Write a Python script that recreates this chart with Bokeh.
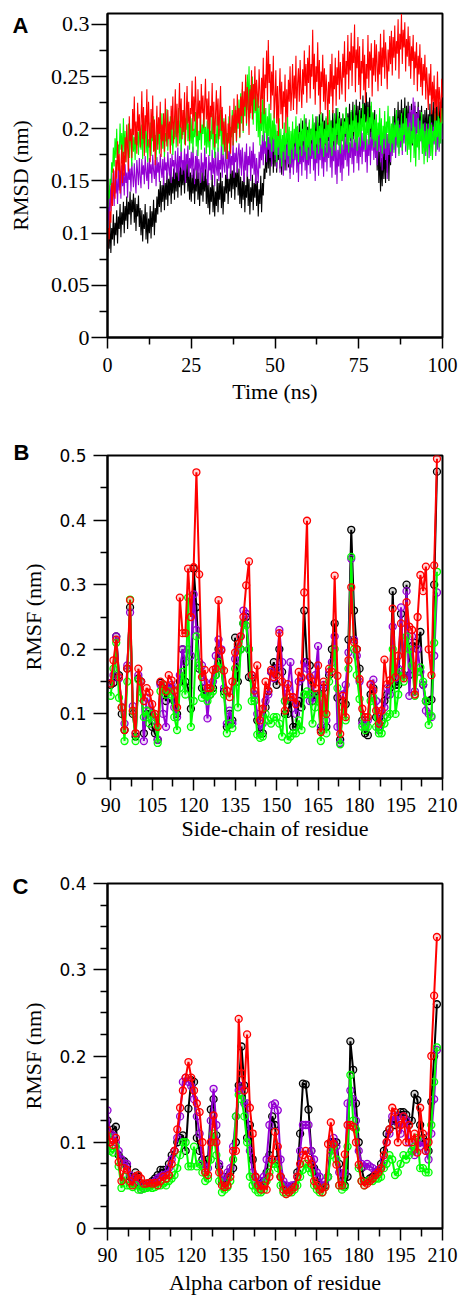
from bokeh.plotting import figure
from bokeh.layouts import column
from bokeh.models import FixedTicker, CustomJSTickFormatter, Title, Range1d
from bokeh.embed import file_html
from bokeh.resources import INLINE

# ---------------- Panel A data: RMSD vs time (0.25 ns sampling) ----------------
time_ns = [i * 0.25 for i in range(401)]

rmsd_black = [
    0.076, 0.098, 0.085, 0.112, 0.081, 0.105, 0.094, 0.118, 0.088, 0.110, 0.098, 0.122, 0.090, 0.116, 0.104, 0.128, 0.096, 0.120, 0.108, 0.130,
    0.100, 0.126, 0.112, 0.135, 0.104, 0.130, 0.118, 0.140, 0.108, 0.132, 0.120, 0.138, 0.110, 0.134, 0.102, 0.128, 0.116, 0.136, 0.106, 0.124,
    0.098, 0.122, 0.092, 0.118, 0.104, 0.128, 0.094, 0.120, 0.090, 0.114, 0.100, 0.126, 0.095, 0.121, 0.106, 0.132, 0.098, 0.124, 0.110, 0.135,
    0.118, 0.142, 0.125, 0.150, 0.120, 0.146, 0.130, 0.155, 0.122, 0.148, 0.132, 0.158, 0.126, 0.152, 0.136, 0.160, 0.128, 0.154, 0.138, 0.162,
    0.132, 0.158, 0.140, 0.166, 0.134, 0.160, 0.144, 0.170, 0.136, 0.162, 0.146, 0.168, 0.138, 0.163, 0.148, 0.170, 0.140, 0.164, 0.132, 0.158,
    0.130, 0.156, 0.138, 0.162, 0.128, 0.152, 0.140, 0.165, 0.132, 0.158, 0.126, 0.150, 0.136, 0.160, 0.130, 0.155, 0.140, 0.164, 0.128, 0.152,
    0.124, 0.148, 0.118, 0.144, 0.130, 0.156, 0.120, 0.146, 0.116, 0.140, 0.126, 0.152, 0.120, 0.148, 0.132, 0.158, 0.124, 0.150, 0.118, 0.145,
    0.130, 0.156, 0.138, 0.164, 0.128, 0.152, 0.140, 0.166, 0.134, 0.160, 0.142, 0.170, 0.132, 0.158, 0.144, 0.168, 0.136, 0.162, 0.128, 0.154,
    0.124, 0.150, 0.132, 0.158, 0.120, 0.146, 0.134, 0.162, 0.126, 0.152, 0.118, 0.144, 0.130, 0.156, 0.122, 0.148, 0.134, 0.160, 0.126, 0.150,
    0.116, 0.142, 0.128, 0.155, 0.120, 0.148, 0.136, 0.162, 0.152, 0.178, 0.158, 0.186, 0.162, 0.192, 0.155, 0.184, 0.166, 0.196, 0.158, 0.190,
    0.164, 0.194, 0.158, 0.188, 0.170, 0.198, 0.162, 0.190, 0.156, 0.185, 0.168, 0.196, 0.160, 0.188, 0.172, 0.200, 0.163, 0.190, 0.158, 0.186,
    0.168, 0.196, 0.162, 0.190, 0.174, 0.202, 0.166, 0.195, 0.176, 0.205, 0.168, 0.198, 0.178, 0.208, 0.170, 0.200, 0.180, 0.210, 0.172, 0.202,
    0.178, 0.206, 0.172, 0.200, 0.182, 0.210, 0.175, 0.204, 0.184, 0.212, 0.177, 0.206, 0.186, 0.214, 0.178, 0.205, 0.188, 0.215, 0.180, 0.208,
    0.184, 0.210, 0.178, 0.206, 0.188, 0.215, 0.180, 0.208, 0.190, 0.218, 0.182, 0.210, 0.192, 0.220, 0.185, 0.212, 0.190, 0.216, 0.183, 0.210,
    0.188, 0.214, 0.182, 0.210, 0.192, 0.220, 0.186, 0.215, 0.196, 0.224, 0.188, 0.216, 0.198, 0.226, 0.190, 0.218, 0.200, 0.228, 0.192, 0.222,
    0.198, 0.226, 0.190, 0.220, 0.202, 0.232, 0.195, 0.225, 0.206, 0.235, 0.196, 0.226, 0.200, 0.230, 0.192, 0.222, 0.186, 0.215, 0.190, 0.218,
    0.176, 0.205, 0.160, 0.190, 0.148, 0.178, 0.140, 0.172, 0.145, 0.180, 0.152, 0.186, 0.148, 0.182, 0.158, 0.195, 0.150, 0.188, 0.165, 0.200,
    0.182, 0.212, 0.190, 0.220, 0.184, 0.214, 0.194, 0.226, 0.186, 0.218, 0.196, 0.228, 0.188, 0.220, 0.198, 0.230, 0.190, 0.222, 0.195, 0.226,
    0.186, 0.216, 0.192, 0.224, 0.184, 0.214, 0.194, 0.222, 0.186, 0.216, 0.196, 0.226, 0.188, 0.218, 0.194, 0.222, 0.186, 0.214, 0.190, 0.218,
    0.192, 0.220, 0.186, 0.214, 0.196, 0.224, 0.190, 0.218, 0.198, 0.226, 0.192, 0.220, 0.200, 0.228, 0.194, 0.222, 0.198, 0.226, 0.202, 0.228,
    0.210,
]

rmsd_purple = [
    0.098, 0.125, 0.112, 0.146, 0.121, 0.158, 0.132, 0.149, 0.126, 0.160, 0.138, 0.152, 0.128, 0.163, 0.141, 0.156, 0.133, 0.165, 0.145, 0.158,
    0.136, 0.166, 0.148, 0.158, 0.134, 0.170, 0.151, 0.162, 0.140, 0.168, 0.155, 0.144, 0.167, 0.152, 0.138, 0.170, 0.158, 0.146, 0.172, 0.154,
    0.143, 0.171, 0.156, 0.165, 0.147, 0.174, 0.159, 0.150, 0.168, 0.142, 0.172, 0.157, 0.166, 0.148, 0.175, 0.160, 0.152, 0.170, 0.145, 0.173,
    0.158, 0.168, 0.149, 0.176, 0.162, 0.153, 0.171, 0.146, 0.174, 0.160, 0.168, 0.151, 0.178, 0.163, 0.155, 0.172, 0.148, 0.176, 0.164, 0.170,
    0.152, 0.179, 0.165, 0.158, 0.182, 0.150, 0.174, 0.163, 0.185, 0.156, 0.170, 0.160, 0.181, 0.148, 0.176, 0.166, 0.184, 0.154, 0.172, 0.162,
    0.178, 0.153, 0.183, 0.165, 0.147, 0.174, 0.160, 0.180, 0.152, 0.171, 0.164, 0.148, 0.177, 0.158, 0.168, 0.150, 0.182, 0.161, 0.173, 0.155,
    0.146, 0.175, 0.160, 0.168, 0.151, 0.180, 0.157, 0.172, 0.145, 0.178, 0.163, 0.155, 0.182, 0.150, 0.170, 0.161, 0.185, 0.153, 0.176, 0.166,
    0.158, 0.183, 0.166, 0.152, 0.179, 0.162, 0.186, 0.157, 0.174, 0.165, 0.188, 0.153, 0.177, 0.168, 0.182, 0.158, 0.175, 0.186, 0.162, 0.180,
    0.155, 0.182, 0.167, 0.149, 0.178, 0.160, 0.186, 0.154, 0.174, 0.165, 0.183, 0.150, 0.179, 0.162, 0.187, 0.156, 0.176, 0.147, 0.172, 0.160,
    0.148, 0.178, 0.162, 0.185, 0.170, 0.194, 0.165, 0.198, 0.176, 0.188, 0.168, 0.200, 0.180, 0.192, 0.172, 0.196, 0.164, 0.190, 0.178, 0.195,
    0.170, 0.198, 0.162, 0.189, 0.175, 0.194, 0.158, 0.186, 0.168, 0.192, 0.155, 0.183, 0.171, 0.190, 0.160, 0.187, 0.166, 0.181, 0.152, 0.185,
    0.163, 0.190, 0.156, 0.183, 0.170, 0.193, 0.158, 0.186, 0.149, 0.180, 0.166, 0.191, 0.155, 0.184, 0.168, 0.195, 0.160, 0.188, 0.152, 0.182,
    0.165, 0.192, 0.157, 0.186, 0.171, 0.196, 0.160, 0.189, 0.150, 0.182, 0.167, 0.193, 0.155, 0.185, 0.170, 0.197, 0.162, 0.190, 0.154, 0.184,
    0.168, 0.194, 0.159, 0.188, 0.172, 0.198, 0.163, 0.190, 0.153, 0.184, 0.169, 0.195, 0.156, 0.186, 0.147, 0.180, 0.164, 0.192, 0.158, 0.189,
    0.150, 0.185, 0.162, 0.192, 0.170, 0.199, 0.164, 0.190, 0.155, 0.187, 0.172, 0.198, 0.166, 0.193, 0.158, 0.190, 0.174, 0.200, 0.167, 0.195,
    0.160, 0.192, 0.173, 0.200, 0.166, 0.196, 0.178, 0.202, 0.168, 0.194, 0.158, 0.190, 0.174, 0.200, 0.165, 0.197, 0.179, 0.204, 0.170, 0.198,
    0.172, 0.200, 0.165, 0.196, 0.178, 0.204, 0.168, 0.198, 0.160, 0.194, 0.176, 0.202, 0.170, 0.199, 0.152, 0.188, 0.175, 0.203, 0.168, 0.200,
    0.174, 0.201, 0.180, 0.206, 0.172, 0.200, 0.184, 0.210, 0.176, 0.204, 0.182, 0.208, 0.175, 0.205, 0.186, 0.212, 0.178, 0.207, 0.188, 0.215,
    0.192, 0.222, 0.185, 0.218, 0.198, 0.230, 0.190, 0.226, 0.184, 0.215, 0.196, 0.221, 0.180, 0.208, 0.188, 0.212, 0.176, 0.204, 0.182, 0.206,
    0.174, 0.200, 0.181, 0.205, 0.172, 0.198, 0.183, 0.206, 0.176, 0.202, 0.185, 0.208, 0.174, 0.200, 0.180, 0.205, 0.178, 0.203, 0.186, 0.208,
    0.190,
]

rmsd_green = [
    0.122, 0.141, 0.133, 0.152, 0.146, 0.168, 0.158, 0.182, 0.164, 0.191, 0.172, 0.200, 0.168, 0.185, 0.176, 0.205, 0.180, 0.196, 0.171, 0.210,
    0.176, 0.198, 0.168, 0.189, 0.182, 0.205, 0.172, 0.195, 0.186, 0.164, 0.200, 0.178, 0.192, 0.170, 0.203, 0.184, 0.197, 0.175, 0.208, 0.187,
    0.180, 0.204, 0.171, 0.195, 0.186, 0.210, 0.177, 0.198, 0.168, 0.190, 0.182, 0.206, 0.174, 0.200, 0.188, 0.212, 0.179, 0.194, 0.170, 0.203,
    0.185, 0.208, 0.176, 0.199, 0.190, 0.215, 0.181, 0.204, 0.173, 0.196, 0.188, 0.219, 0.179, 0.201, 0.192, 0.212, 0.184, 0.206, 0.175, 0.198,
    0.190, 0.214, 0.182, 0.205, 0.196, 0.220, 0.186, 0.208, 0.178, 0.202, 0.194, 0.218, 0.185, 0.210, 0.199, 0.222, 0.188, 0.205, 0.180, 0.212,
    0.186, 0.210, 0.177, 0.200, 0.192, 0.216, 0.183, 0.207, 0.174, 0.198, 0.189, 0.214, 0.180, 0.204, 0.195, 0.219, 0.184, 0.202, 0.176, 0.208,
    0.182, 0.206, 0.174, 0.198, 0.190, 0.215, 0.180, 0.204, 0.172, 0.195, 0.186, 0.212, 0.178, 0.200, 0.193, 0.218, 0.183, 0.205, 0.175, 0.210,
    0.180, 0.204, 0.171, 0.196, 0.188, 0.212, 0.178, 0.202, 0.192, 0.218, 0.184, 0.210, 0.196, 0.222, 0.187, 0.214, 0.200, 0.228, 0.191, 0.234,
    0.205, 0.238, 0.196, 0.228, 0.212, 0.245, 0.203, 0.252, 0.218, 0.260, 0.210, 0.242, 0.222, 0.250, 0.204, 0.236, 0.215, 0.244, 0.198, 0.230,
    0.192, 0.222, 0.184, 0.216, 0.198, 0.228, 0.188, 0.232, 0.196, 0.220, 0.182, 0.212, 0.193, 0.224, 0.186, 0.215, 0.178, 0.208, 0.190, 0.218,
    0.175, 0.204, 0.168, 0.198, 0.182, 0.210, 0.172, 0.200, 0.164, 0.194, 0.178, 0.206, 0.170, 0.196, 0.185, 0.212, 0.174, 0.202, 0.166, 0.198,
    0.180, 0.207, 0.171, 0.200, 0.186, 0.212, 0.176, 0.203, 0.168, 0.197, 0.183, 0.210, 0.174, 0.200, 0.188, 0.214, 0.178, 0.205, 0.170, 0.199,
    0.182, 0.209, 0.174, 0.200, 0.189, 0.214, 0.179, 0.206, 0.171, 0.198, 0.185, 0.212, 0.176, 0.203, 0.191, 0.216, 0.181, 0.207, 0.173, 0.200,
    0.186, 0.212, 0.177, 0.204, 0.192, 0.218, 0.182, 0.208, 0.174, 0.201, 0.188, 0.215, 0.179, 0.205, 0.194, 0.220, 0.184, 0.210, 0.176, 0.203,
    0.189, 0.215, 0.180, 0.207, 0.195, 0.221, 0.185, 0.211, 0.177, 0.204, 0.191, 0.218, 0.182, 0.208, 0.197, 0.223, 0.187, 0.213, 0.179, 0.206,
    0.192, 0.218, 0.183, 0.210, 0.198, 0.224, 0.188, 0.214, 0.180, 0.207, 0.194, 0.221, 0.185, 0.211, 0.200, 0.226, 0.190, 0.216, 0.182, 0.209,
    0.188, 0.214, 0.179, 0.206, 0.194, 0.220, 0.184, 0.210, 0.176, 0.203, 0.190, 0.217, 0.181, 0.207, 0.196, 0.222, 0.186, 0.212, 0.178, 0.205,
    0.186, 0.212, 0.177, 0.204, 0.192, 0.218, 0.182, 0.208, 0.174, 0.201, 0.188, 0.215, 0.179, 0.205, 0.194, 0.220, 0.184, 0.210, 0.175, 0.202,
    0.180, 0.206, 0.168, 0.198, 0.186, 0.214, 0.172, 0.202, 0.164, 0.195, 0.182, 0.210, 0.170, 0.200, 0.188, 0.216, 0.176, 0.205, 0.166, 0.198,
    0.178, 0.205, 0.168, 0.200, 0.185, 0.212, 0.174, 0.204, 0.170, 0.198, 0.188, 0.215, 0.178, 0.208, 0.192, 0.218, 0.182, 0.210, 0.186, 0.220,
    0.205,
]

rmsd_red = [
    0.082, 0.105, 0.094, 0.121, 0.110, 0.148, 0.126, 0.162, 0.141, 0.133, 0.170, 0.152, 0.188, 0.160, 0.176, 0.138, 0.165, 0.185, 0.148, 0.178,
    0.155, 0.192, 0.168, 0.204, 0.181, 0.159, 0.212, 0.188, 0.200, 0.172, 0.219, 0.194, 0.231, 0.185, 0.207, 0.176, 0.225, 0.198, 0.214, 0.182,
    0.205, 0.236, 0.190, 0.221, 0.174, 0.213, 0.198, 0.238, 0.183, 0.226, 0.200, 0.168, 0.219, 0.191, 0.232, 0.178, 0.209, 0.165, 0.196, 0.222,
    0.180, 0.211, 0.195, 0.226, 0.173, 0.204, 0.188, 0.215, 0.178, 0.229, 0.197, 0.183, 0.218, 0.190, 0.207, 0.176, 0.222, 0.199, 0.231, 0.186,
    0.209, 0.238, 0.192, 0.224, 0.183, 0.215, 0.244, 0.201, 0.229, 0.190, 0.218, 0.197, 0.235, 0.184, 0.212, 0.241, 0.205, 0.226, 0.188, 0.220,
    0.214, 0.246, 0.198, 0.231, 0.207, 0.250, 0.219, 0.193, 0.238, 0.210, 0.227, 0.196, 0.243, 0.215, 0.232, 0.201, 0.224, 0.248, 0.209, 0.229,
    0.200, 0.236, 0.188, 0.222, 0.211, 0.244, 0.195, 0.226, 0.182, 0.214, 0.237, 0.203, 0.229, 0.190, 0.218, 0.241, 0.198, 0.221, 0.185, 0.207,
    0.178, 0.214, 0.194, 0.171, 0.205, 0.186, 0.222, 0.176, 0.198, 0.213, 0.184, 0.229, 0.196, 0.218, 0.188, 0.233, 0.205, 0.220, 0.192, 0.231,
    0.212, 0.245, 0.198, 0.236, 0.221, 0.252, 0.205, 0.240, 0.226, 0.194, 0.238, 0.215, 0.256, 0.209, 0.243, 0.228, 0.260, 0.217, 0.247, 0.233,
    0.220, 0.257, 0.236, 0.205, 0.249, 0.228, 0.268, 0.214, 0.252, 0.239, 0.275, 0.226, 0.285, 0.244, 0.262, 0.218, 0.255, 0.232, 0.270, 0.210,
    0.228, 0.256, 0.205, 0.241, 0.193, 0.232, 0.258, 0.214, 0.245, 0.200, 0.236, 0.221, 0.252, 0.196, 0.238, 0.211, 0.247, 0.226, 0.260, 0.217,
    0.235, 0.262, 0.218, 0.251, 0.229, 0.270, 0.214, 0.244, 0.258, 0.226, 0.266, 0.238, 0.220, 0.257, 0.233, 0.275, 0.241, 0.262, 0.225, 0.268,
    0.244, 0.280, 0.229, 0.262, 0.250, 0.295, 0.238, 0.272, 0.223, 0.260, 0.245, 0.283, 0.232, 0.266, 0.214, 0.255, 0.240, 0.271, 0.226, 0.258,
    0.218, 0.252, 0.236, 0.204, 0.245, 0.224, 0.262, 0.231, 0.272, 0.215, 0.251, 0.238, 0.268, 0.222, 0.259, 0.242, 0.275, 0.228, 0.264, 0.247,
    0.233, 0.272, 0.249, 0.284, 0.226, 0.265, 0.252, 0.290, 0.238, 0.274, 0.256, 0.292, 0.241, 0.279, 0.263, 0.300, 0.235, 0.276, 0.258, 0.288,
    0.242, 0.279, 0.228, 0.265, 0.253, 0.286, 0.237, 0.271, 0.225, 0.262, 0.248, 0.290, 0.239, 0.274, 0.256, 0.282, 0.231, 0.268, 0.251, 0.285,
    0.245, 0.281, 0.262, 0.236, 0.274, 0.252, 0.291, 0.241, 0.278, 0.259, 0.295, 0.248, 0.283, 0.266, 0.238, 0.276, 0.255, 0.289, 0.262, 0.294,
    0.251, 0.288, 0.268, 0.299, 0.256, 0.284, 0.272, 0.305, 0.248, 0.291, 0.276, 0.310, 0.262, 0.295, 0.278, 0.302, 0.255, 0.286, 0.269, 0.298,
    0.260, 0.289, 0.248, 0.279, 0.265, 0.290, 0.242, 0.274, 0.258, 0.283, 0.236, 0.270, 0.252, 0.281, 0.240, 0.268, 0.232, 0.262, 0.246, 0.271,
    0.228, 0.259, 0.242, 0.218, 0.253, 0.232, 0.262, 0.214, 0.245, 0.226, 0.251, 0.208, 0.238, 0.221, 0.255, 0.212, 0.240, 0.228, 0.206, 0.248,
    0.230,
]

# ---------------- Panel B data: side-chain RMSF ----------------
residues = list(range(90, 209))

sc_black = [
    0.145, 0.148, 0.220, 0.160, 0.100, 0.075, 0.170, 0.265, 0.100, 0.065,
    0.155, 0.150, 0.070, 0.100, 0.105, 0.080, 0.070, 0.060, 0.148, 0.140,
    0.120, 0.140, 0.140, 0.120, 0.100, 0.150, 0.200, 0.150, 0.140, 0.108,
    0.325, 0.265, 0.170, 0.140, 0.130, 0.135, 0.130, 0.140, 0.160, 0.200,
    0.170, 0.135, 0.080, 0.100, 0.090, 0.218, 0.150, 0.200, 0.240, 0.250,
    0.157, 0.155, 0.130, 0.090, 0.070, 0.070, 0.110, 0.135, 0.165, 0.180,
    0.145, 0.200, 0.165, 0.100, 0.100, 0.120, 0.080, 0.080, 0.120, 0.110,
    0.260, 0.180, 0.175, 0.120, 0.130, 0.130, 0.075, 0.140, 0.080, 0.160,
    0.200, 0.240, 0.125, 0.060, 0.120, 0.115, 0.215, 0.385, 0.260, 0.200,
    0.170, 0.090, 0.070, 0.067, 0.130, 0.140, 0.095, 0.080, 0.090, 0.120,
    0.130, 0.140, 0.290, 0.145, 0.145, 0.255, 0.160, 0.300, 0.160, 0.205,
    0.210, 0.200, 0.227, 0.145, 0.120, 0.120, 0.122, 0.300, 0.475,
]

sc_purple = [
    0.148, 0.160, 0.220, 0.155, 0.110, 0.085, 0.175, 0.257, 0.112, 0.070,
    0.160, 0.150, 0.058, 0.125, 0.115, 0.100, 0.090, 0.060, 0.145, 0.100,
    0.080, 0.140, 0.145, 0.110, 0.095, 0.160, 0.200, 0.180, 0.200, 0.190,
    0.285, 0.230, 0.180, 0.175, 0.150, 0.093, 0.140, 0.150, 0.190, 0.215,
    0.200, 0.140, 0.085, 0.105, 0.085, 0.185, 0.200, 0.220, 0.260, 0.255,
    0.200, 0.160, 0.130, 0.100, 0.075, 0.085, 0.120, 0.130, 0.165, 0.155,
    0.170, 0.230, 0.180, 0.120, 0.140, 0.180, 0.125, 0.100, 0.150, 0.155,
    0.180, 0.170, 0.120, 0.125, 0.160, 0.205, 0.080, 0.145, 0.090, 0.165,
    0.180, 0.220, 0.080, 0.055, 0.130, 0.145, 0.195, 0.340, 0.215, 0.190,
    0.150, 0.085, 0.080, 0.090, 0.145, 0.153, 0.120, 0.075, 0.100, 0.110,
    0.140, 0.130, 0.235, 0.155, 0.170, 0.265, 0.160, 0.290, 0.128, 0.220,
    0.135, 0.200, 0.165, 0.145, 0.105, 0.100, 0.095, 0.190, 0.288,
]

sc_green = [
    0.128, 0.170, 0.210, 0.125, 0.110, 0.058, 0.150, 0.277, 0.104, 0.058,
    0.153, 0.125, 0.095, 0.105, 0.085, 0.100, 0.095, 0.055, 0.135, 0.145,
    0.130, 0.135, 0.130, 0.095, 0.075, 0.140, 0.165, 0.130, 0.280, 0.080,
    0.120, 0.220, 0.175, 0.125, 0.130, 0.120, 0.130, 0.135, 0.160, 0.180,
    0.170, 0.130, 0.070, 0.085, 0.078, 0.170, 0.110, 0.200, 0.240, 0.237,
    0.200, 0.120, 0.120, 0.068, 0.063, 0.065, 0.100, 0.090, 0.085, 0.095,
    0.095, 0.085, 0.065, 0.120, 0.060, 0.065, 0.070, 0.070, 0.090, 0.075,
    0.130, 0.135, 0.130, 0.085, 0.110, 0.130, 0.058, 0.125, 0.070, 0.150,
    0.170, 0.200, 0.140, 0.053, 0.110, 0.090, 0.170, 0.343, 0.200, 0.160,
    0.123, 0.080, 0.075, 0.080, 0.120, 0.125, 0.080, 0.070, 0.070, 0.085,
    0.095, 0.100, 0.200, 0.100, 0.130, 0.165, 0.150, 0.220, 0.200, 0.175,
    0.128, 0.165, 0.172, 0.150, 0.120, 0.083, 0.097, 0.210, 0.320,
]

sc_red = [
    0.147, 0.183, 0.215, 0.157, 0.110, 0.075, 0.170, 0.276, 0.105, 0.070,
    0.170, 0.150, 0.120, 0.140, 0.133, 0.115, 0.100, 0.080, 0.150, 0.146,
    0.135, 0.160, 0.152, 0.136, 0.110, 0.280, 0.225, 0.225, 0.325, 0.250,
    0.327, 0.474, 0.316, 0.157, 0.168, 0.140, 0.140, 0.168, 0.170, 0.276,
    0.198, 0.167, 0.136, 0.126, 0.150, 0.195, 0.208, 0.220, 0.250, 0.299,
    0.336, 0.160, 0.136, 0.175, 0.090, 0.108, 0.150, 0.136, 0.168, 0.157,
    0.160, 0.225, 0.150, 0.105, 0.146, 0.126, 0.126, 0.115, 0.165, 0.157,
    0.288, 0.399, 0.157, 0.150, 0.140, 0.175, 0.072, 0.150, 0.100, 0.170,
    0.165, 0.314, 0.159, 0.069, 0.128, 0.095, 0.183, 0.296, 0.211, 0.200,
    0.154, 0.108, 0.095, 0.095, 0.146, 0.136, 0.105, 0.085, 0.105, 0.184,
    0.146, 0.152, 0.263, 0.157, 0.190, 0.240, 0.155, 0.273, 0.235, 0.230,
    0.130, 0.250, 0.315, 0.290, 0.328, 0.200, 0.160, 0.330, 0.495,
]

# ---------------- Panel C data: alpha-carbon RMSF ----------------
ca_black = [
    0.125, 0.110, 0.115, 0.118, 0.085, 0.080, 0.078, 0.072, 0.060, 0.058,
    0.065, 0.060, 0.050, 0.050, 0.052, 0.050, 0.055, 0.058, 0.062, 0.068,
    0.068, 0.065, 0.075, 0.085, 0.090, 0.100, 0.105, 0.108, 0.090, 0.139,
    0.172, 0.170, 0.105, 0.090, 0.080, 0.075, 0.080, 0.138, 0.150, 0.108,
    0.072, 0.055, 0.052, 0.060, 0.065, 0.070, 0.100, 0.166, 0.211, 0.166,
    0.105, 0.120, 0.080, 0.060, 0.052, 0.050, 0.055, 0.065, 0.085, 0.130,
    0.120, 0.080, 0.060, 0.050, 0.045, 0.045, 0.048, 0.050, 0.065, 0.110,
    0.168, 0.167, 0.138, 0.090, 0.070, 0.060, 0.050, 0.048, 0.050, 0.060,
    0.100, 0.100, 0.100, 0.075, 0.055, 0.050, 0.060, 0.217, 0.184, 0.145,
    0.100, 0.070, 0.055, 0.055, 0.058, 0.060, 0.065, 0.068, 0.075, 0.090,
    0.110, 0.115, 0.125, 0.120, 0.130, 0.135, 0.135, 0.132, 0.120, 0.125,
    0.156, 0.149, 0.120, 0.105, 0.100, 0.090, 0.147, 0.200, 0.260,
]

ca_purple = [
    0.137, 0.110, 0.108, 0.100, 0.090, 0.080, 0.075, 0.075, 0.062, 0.055,
    0.058, 0.055, 0.045, 0.047, 0.050, 0.050, 0.052, 0.055, 0.058, 0.060,
    0.062, 0.063, 0.070, 0.080, 0.090, 0.105, 0.130, 0.170, 0.175, 0.170,
    0.165, 0.150, 0.130, 0.110, 0.075, 0.070, 0.070, 0.125, 0.162, 0.120,
    0.075, 0.060, 0.055, 0.065, 0.070, 0.095, 0.130, 0.160, 0.165, 0.145,
    0.145, 0.090, 0.065, 0.055, 0.050, 0.055, 0.060, 0.080, 0.120, 0.143,
    0.145, 0.137, 0.080, 0.055, 0.050, 0.048, 0.050, 0.050, 0.060, 0.090,
    0.120, 0.120, 0.120, 0.090, 0.080, 0.065, 0.060, 0.050, 0.055, 0.060,
    0.090, 0.105, 0.095, 0.065, 0.060, 0.065, 0.145, 0.160, 0.150, 0.125,
    0.090, 0.075, 0.072, 0.075, 0.072, 0.070, 0.065, 0.068, 0.070, 0.080,
    0.100, 0.110, 0.130, 0.125, 0.130, 0.110, 0.130, 0.125, 0.100, 0.090,
    0.085, 0.100, 0.095, 0.100, 0.090, 0.080, 0.110, 0.150, 0.207,
]

ca_green = [
    0.108, 0.090, 0.088, 0.095, 0.072, 0.047, 0.060, 0.050, 0.050, 0.048,
    0.050, 0.045, 0.045, 0.046, 0.047, 0.048, 0.047, 0.048, 0.050, 0.050,
    0.052, 0.050, 0.055, 0.058, 0.062, 0.070, 0.085, 0.100, 0.100, 0.072,
    0.072, 0.095, 0.072, 0.075, 0.065, 0.055, 0.058, 0.080, 0.110, 0.085,
    0.055, 0.042, 0.045, 0.048, 0.055, 0.080, 0.130, 0.155, 0.150, 0.130,
    0.100, 0.060, 0.050, 0.045, 0.042, 0.042, 0.045, 0.055, 0.065, 0.075,
    0.075, 0.070, 0.050, 0.042, 0.040, 0.042, 0.042, 0.045, 0.050, 0.060,
    0.068, 0.075, 0.070, 0.065, 0.050, 0.045, 0.042, 0.042, 0.048, 0.060,
    0.085, 0.095, 0.080, 0.050, 0.045, 0.048, 0.095, 0.178, 0.125, 0.115,
    0.070, 0.055, 0.050, 0.055, 0.055, 0.055, 0.058, 0.058, 0.060, 0.070,
    0.075, 0.085, 0.080, 0.062, 0.065, 0.075, 0.085, 0.080, 0.085, 0.090,
    0.095, 0.105, 0.070, 0.070, 0.065, 0.065, 0.120, 0.170, 0.210,
]

ca_red = [
    0.114, 0.100, 0.097, 0.105, 0.077, 0.055, 0.070, 0.068, 0.055, 0.050,
    0.060, 0.062, 0.058, 0.052, 0.052, 0.053, 0.052, 0.053, 0.050, 0.055,
    0.060, 0.058, 0.062, 0.075, 0.090, 0.115, 0.140, 0.160, 0.175, 0.193,
    0.175, 0.160, 0.145, 0.135, 0.100, 0.065, 0.062, 0.100, 0.131, 0.100,
    0.065, 0.050, 0.048, 0.050, 0.060, 0.090, 0.090, 0.243, 0.180, 0.160,
    0.225, 0.140, 0.110, 0.060, 0.050, 0.045, 0.050, 0.045, 0.060, 0.080,
    0.112, 0.095, 0.060, 0.045, 0.040, 0.042, 0.045, 0.048, 0.060, 0.075,
    0.085, 0.090, 0.080, 0.075, 0.055, 0.050, 0.045, 0.042, 0.048, 0.098,
    0.123, 0.098, 0.074, 0.050, 0.050, 0.086, 0.120, 0.120, 0.118, 0.100,
    0.074, 0.055, 0.050, 0.052, 0.055, 0.058, 0.062, 0.065, 0.070, 0.085,
    0.100, 0.115, 0.140, 0.135, 0.100, 0.120, 0.130, 0.100, 0.120, 0.100,
    0.110, 0.088, 0.140, 0.110, 0.090, 0.100, 0.200, 0.270, 0.338,
]

# ---------------- tick definitions ----------------
a_xticks = [0, 25, 50, 75, 100]
a_xminor = [12.5, 37.5, 62.5, 87.5]
a_yticks = [0, 0.05, 0.1, 0.15, 0.2, 0.25, 0.3]
a_yminor = [0.025, 0.075, 0.125, 0.175, 0.225, 0.275]
res_ticks = [90, 105, 120, 135, 150, 165, 180, 195, 210]
res_minor = [97.5, 112.5, 127.5, 142.5, 157.5, 172.5, 187.5, 202.5]
b_yticks = [0, 0.1, 0.2, 0.3, 0.4, 0.5]
b_yminor = [0.05, 0.15, 0.25, 0.35, 0.45]
c_yticks = [0, 0.1, 0.2, 0.3, 0.4]
c_yminor = [0.025, 0.05, 0.075, 0.125, 0.15, 0.175, 0.225, 0.25, 0.275, 0.325, 0.35, 0.375]

COLORS = {"black": "#000000", "purple": "#9400D3", "green": "#00FF00", "red": "#FF0000"}
SERIF = "Liberation Serif"
SANS = "DejaVu Sans"
LETTER = "Liberation Sans"

num_fmt = CustomJSTickFormatter(code="return String(Math.round(tick * 1000) / 1000);")


def make_fig(height, xr, yr, left, right, top, bottom):
    p = figure(width=468, height=height, x_range=Range1d(*xr), y_range=Range1d(*yr),
               output_backend="svg", toolbar_location=None,
               min_border_left=left, min_border_right=right,
               min_border_top=top, min_border_bottom=bottom)
    p.grid.visible = False
    p.outline_line_color = "black"
    p.outline_line_width = 2
    p.background_fill_color = "white"
    p.border_fill_color = "white"
    for ax in (p.xaxis[0], p.yaxis[0]):
        ax.axis_line_width = 2
        ax.axis_line_color = "black"
        ax.major_tick_line_width = 1.5
        ax.minor_tick_line_width = 1.5
        ax.major_tick_in = 0
        ax.minor_tick_in = 0
        ax.major_label_text_color = "black"
        ax.axis_label_text_font_style = "normal"
        ax.axis_label_text_color = "black"
        ax.formatter = num_fmt
    return p


def panel_letter(p, text, offset, standoff):
    p.add_layout(Title(text=text, align="left", offset=offset, standoff=standoff,
                       vertical_align="bottom", text_font=LETTER, text_font_style="bold",
                       text_font_size="22px", text_color="black"), "above")


# ---------------- Panel A ----------------
pA = make_fig(430, (0, 100), (0, 0.3105), 107, 26, 13, 93)
pA.xaxis.ticker = FixedTicker(ticks=a_xticks, minor_ticks=a_xminor)
pA.yaxis.ticker = FixedTicker(ticks=a_yticks, minor_ticks=a_yminor)
pA.xaxis.major_tick_out = 11
pA.xaxis.minor_tick_out = 7
pA.yaxis.major_tick_out = 16
pA.yaxis.minor_tick_out = 8
pA.xaxis.major_label_text_font = SERIF
pA.xaxis.major_label_text_font_size = "20px"
pA.xaxis.major_label_standoff = 9
pA.yaxis.major_label_text_font = SERIF
pA.yaxis.major_label_text_font_size = "22px"
pA.yaxis.major_label_standoff = 2
pA.xaxis.axis_label = "Time (ns)"
pA.yaxis.axis_label = "RMSD (nm)"
for ax in (pA.xaxis[0], pA.yaxis[0]):
    ax.axis_label_text_font = SERIF
    ax.axis_label_text_font_size = "22px"
pA.xaxis.axis_label_standoff = 4
pA.yaxis.axis_label_standoff = 15

for name, ys in (("black", rmsd_black), ("purple", rmsd_purple), ("green", rmsd_green), ("red", rmsd_red)):
    pA.line(time_ns, ys, line_color=COLORS[name], line_width=1.1)
panel_letter(pA, "A", -95, -49)


# ---------------- Panels B and C ----------------
def rmsf_panel(height, xr, yr, left, right, top, bottom, yticks, yminor, xlabel, xlabel_standoff, series):
    p = make_fig(height, xr, yr, left, right, top, bottom)
    p.xaxis.ticker = FixedTicker(ticks=res_ticks, minor_ticks=res_minor)
    p.yaxis.ticker = FixedTicker(ticks=yticks, minor_ticks=yminor)
    p.xaxis.major_tick_out = 12
    p.xaxis.minor_tick_out = 8
    p.yaxis.major_tick_out = 14
    p.yaxis.minor_tick_out = 7
    p.xaxis.major_label_text_font = SERIF
    p.xaxis.major_label_text_font_size = "20px"
    p.xaxis.major_label_standoff = 7
    p.yaxis.major_label_text_font = SANS
    p.yaxis.major_label_text_font_size = "17px"
    p.yaxis.major_label_standoff = 7
    p.yaxis.axis_label = "RMSF (nm)"
    p.yaxis.axis_label_text_font = SERIF
    p.yaxis.axis_label_text_font_size = "22px"
    p.yaxis.axis_label_standoff = 10
    p.xaxis.axis_label = xlabel
    p.xaxis.axis_label_text_font = SERIF
    p.xaxis.axis_label_text_font_size = "22px"
    p.xaxis.axis_label_standoff = xlabel_standoff
    for name, ys in series:
        p.line(residues, ys, line_color=COLORS[name], line_width=2)
        p.scatter(residues, ys, marker="circle", size=7, fill_color=COLORS[name], fill_alpha=0.15,
                  line_color=COLORS[name], line_width=1.3)
    return p


pB = rmsf_panel(430, (88.84, 210), (0, 0.5), 106, 17, 25, 82, b_yticks, b_yminor,
                "Side-chain of residue", 1,
                (("black", sc_black), ("purple", sc_purple), ("green", sc_green), ("red", sc_red)))
panel_letter(pB, "B", -94, -18)

pC = rmsf_panel(437, (90, 210), (0, 0.4), 107, 16, 23, 68, c_yticks, c_yminor,
                "Alpha carbon of residue", 5,
                (("black", ca_black), ("purple", ca_purple), ("green", ca_green), ("red", ca_red)))
panel_letter(pC, "C", -95, -31)

layout = column(pA, pB, pC, spacing=0)
open("out.html", "w").write(file_html(layout, INLINE))
